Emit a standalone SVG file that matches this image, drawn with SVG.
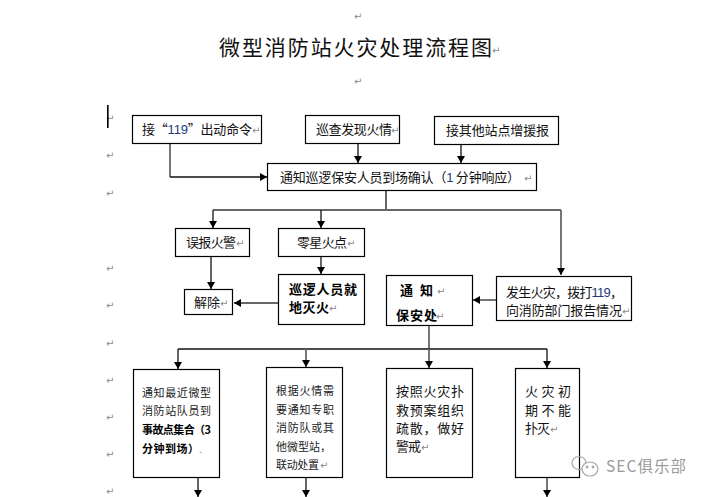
<svg xmlns="http://www.w3.org/2000/svg" width="709" height="497" viewBox="0 0 709 497">
<style>
text{font-family:"Noto Sans CJK SC","Liberation Sans",sans-serif;fill:#111}
.t{font-size:13px}
.s{font-size:11px;fill:#222}
.b{font-size:13px;font-weight:700;fill:#000}
.sb{font-size:11px;font-weight:700;fill:#000}
.r{font-family:"DejaVu Sans",sans-serif;font-size:10px;fill:#8a8a8a}
.n{fill:#fff;stroke:#000;stroke-width:1.2}
.c{fill:none;stroke:#111;stroke-width:1.3}
.g{fill:none;stroke:#666;stroke-width:1.8}
</style>
<defs>
<marker id="a" markerUnits="userSpaceOnUse" markerWidth="8" markerHeight="8" refX="7" refY="4" orient="auto"><path d="M0 0L7 4L0 8Z" fill="#000"/></marker>
</defs>
<g id="marks">
<text class="r" x="354" y="20">↵</text><text class="r" x="354" y="85">↵</text><text class="r" x="492" y="54">↵</text>
<text class="r" x="106" y="122">↵</text><text class="r" x="106" y="159">↵</text><text class="r" x="106" y="197">↵</text>
<text class="r" x="106" y="272">↵</text><text class="r" x="106" y="309">↵</text><text class="r" x="106" y="347">↵</text>
<text class="r" x="106" y="384">↵</text><text class="r" x="106" y="421">↵</text><text class="r" x="106" y="458">↵</text><text class="r" x="106" y="495">↵</text>
</g>
<rect x="107" y="105" width="1.6" height="23" fill="#000"/>
<text id="title" x="219" y="55" font-size="21" textLength="273" style="font-weight:400">微型消防站火灾处理流程图</text>
<g id="connectors">
<path class="g" d="M170 143V177" /><path class="c" d="M170 177H267" marker-end="url(#a)"/>
<path class="c" d="M358 143V163" marker-end="url(#a)"/>
<path class="c" d="M461 144V163" marker-end="url(#a)"/>
<path class="c" d="M386 190V210"/>
<path class="g" d="M213 210H561"/>
<path class="c" d="M213 210V228" marker-end="url(#a)"/>
<path class="c" d="M321 210V228" marker-end="url(#a)"/>
<path class="g" d="M561 210V275" marker-end="url(#a)"/>
<path class="c" d="M211 256V289" marker-end="url(#a)"/>
<path class="c" d="M321 256V274" marker-end="url(#a)"/>
<path class="g" d="M278 303H234" marker-end="url(#a)"/>
<path class="g" d="M496 300H473" marker-end="url(#a)"/>
<path class="g" d="M429 325V349"/>
<path class="c" d="M178 349H547"/>
<path class="c" d="M178 349V369" marker-end="url(#a)"/>
<path class="g" d="M306 349V367" marker-end="url(#a)"/>
<path class="g" d="M429 349V368" marker-end="url(#a)"/>
<path class="c" d="M547 349V368" marker-end="url(#a)"/>
<path class="c" d="M198 477V497" marker-end="url(#a)"/>
<path class="c" d="M306 477V497" marker-end="url(#a)"/>
<path class="g" d="M547 477V497" marker-end="url(#a)"/>
</g>
<g id="n1"><rect class="n" x="132.500" y="115.500" width="129" height="28"/><text class="t" x="142" y="134" textLength="110">接“<tspan fill="#1a3a7a" font-family="Liberation Sans">119</tspan>”出动命令</text><text class="r" x="252" y="134">↵</text></g>
<g id="n2"><rect class="n" x="305.500" y="115.500" width="94" height="28"/><text class="t" x="316" y="134" textLength="76">巡查发现火情</text><text class="r" x="391" y="134">↵</text></g>
<g id="n3"><rect class="n" x="434.500" y="116.500" width="124" height="28"/><text class="t" x="446" y="135" textLength="103">接其他站点增援报</text></g>
<g id="n4"><rect class="n" x="267.500" y="163.500" width="269" height="27"/><text class="t" x="280" y="182" textLength="240">通知巡逻保安人员到场确认（<tspan fill="#1a3a7a" font-family="Liberation Sans">1</tspan> 分钟响应）</text><text class="r" x="524" y="182">↵</text></g>
<g id="n5"><rect class="n" x="175.500" y="228.500" width="74" height="28"/><text class="t" x="186" y="247" textLength="50">误报火警</text><text class="r" x="236" y="247">↵</text></g>
<g id="n6"><rect class="n" x="278.500" y="228.500" width="86" height="28"/><text class="t" x="297" y="247" textLength="50">零星火点</text><text class="r" x="347" y="247">↵</text></g>
<g id="n7"><rect class="n" x="184.500" y="289.500" width="48" height="25"/><text class="t" x="194" y="307" textLength="26">解除</text><text class="r" x="220" y="307">↵</text></g>
<g id="n8"><rect class="n" x="278.500" y="274.500" width="86" height="50"/><text class="b" x="289" y="294" textLength="68">巡逻人员就</text><text class="b" x="289" y="312" textLength="40">地灭火</text><text class="r" x="329" y="312">↵</text></g>
<g id="n9"><rect class="n" x="386.500" y="275.500" width="86" height="50"/><text class="b" x="400" y="295" textLength="33">通 知</text><text class="r" x="437" y="295">↵</text><text class="b" x="396" y="320" textLength="41">保安处</text><text class="r" x="436" y="320">↵</text></g>
<g id="n10"><rect class="n" x="496.500" y="276.500" width="135" height="44"/><text class="t" x="506" y="297" textLength="117">发生火灾，拨打<tspan fill="#1a3a7a" font-family="Liberation Sans">119</tspan>，</text><text class="t" x="506" y="315" textLength="116">向消防部门报告情况</text><text class="r" x="622" y="315">↵</text></g>
<g id="n11"><rect class="n" x="133.500" y="369.500" width="86" height="108"/>
<text class="s" x="142" y="397" textLength="69">通知最近微型</text><text class="s" x="142" y="415" textLength="69">消防站队员到</text><text class="sb" x="142" y="434" textLength="69">事故点集合（3</text><text class="sb" x="142" y="453" textLength="57">分钟到场）</text><text class="r" x="199" y="453">.</text></g>
<g id="n12"><rect class="n" x="266.500" y="367.500" width="76" height="110"/>
<text class="s" x="276" y="395" textLength="58">根据火情需</text><text class="s" x="276" y="414" textLength="58">要通知专职</text><text class="s" x="276" y="432" textLength="58">消防队或其</text><text class="s" x="276" y="451" textLength="55">他微型站，</text><text class="s" x="276" y="469" textLength="43">联动处置</text><text class="r" x="320" y="469">↵</text></g>
<g id="n13"><rect class="n" x="386.500" y="368.500" width="86" height="109"/>
<text class="t" x="396" y="396" textLength="68">按照火灾扑</text><text class="t" x="396" y="415" textLength="68">救预案组织</text><text class="t" x="396" y="433" textLength="68">疏散，做好</text><text class="t" x="396" y="451" textLength="25">警戒</text><text class="r" x="421" y="451">↵</text></g>
<g id="n14"><rect class="n" x="515.500" y="368.500" width="64" height="109"/>
<text class="t" x="525" y="396" textLength="46">火灾初</text><text class="t" x="525" y="415" textLength="46">期不能</text><text class="t" x="525" y="433" textLength="25">扑灭</text><text class="r" x="550" y="433">↵</text></g>
<g id="watermark" fill="none" stroke="#a8a8a8" stroke-width="1.2">
<ellipse cx="579" cy="463" rx="7" ry="6.500"/><ellipse cx="590" cy="469" rx="8" ry="7" fill="#fff"/>
<circle cx="587" cy="467" r="0.800" fill="#a8a8a8"/><circle cx="593" cy="467" r="0.800" fill="#a8a8a8"/>
<text x="606" y="472" font-size="15.500" textLength="80" style="fill:#9a9a9a;stroke:none">SEC俱乐部</text>
</g>
</svg>
